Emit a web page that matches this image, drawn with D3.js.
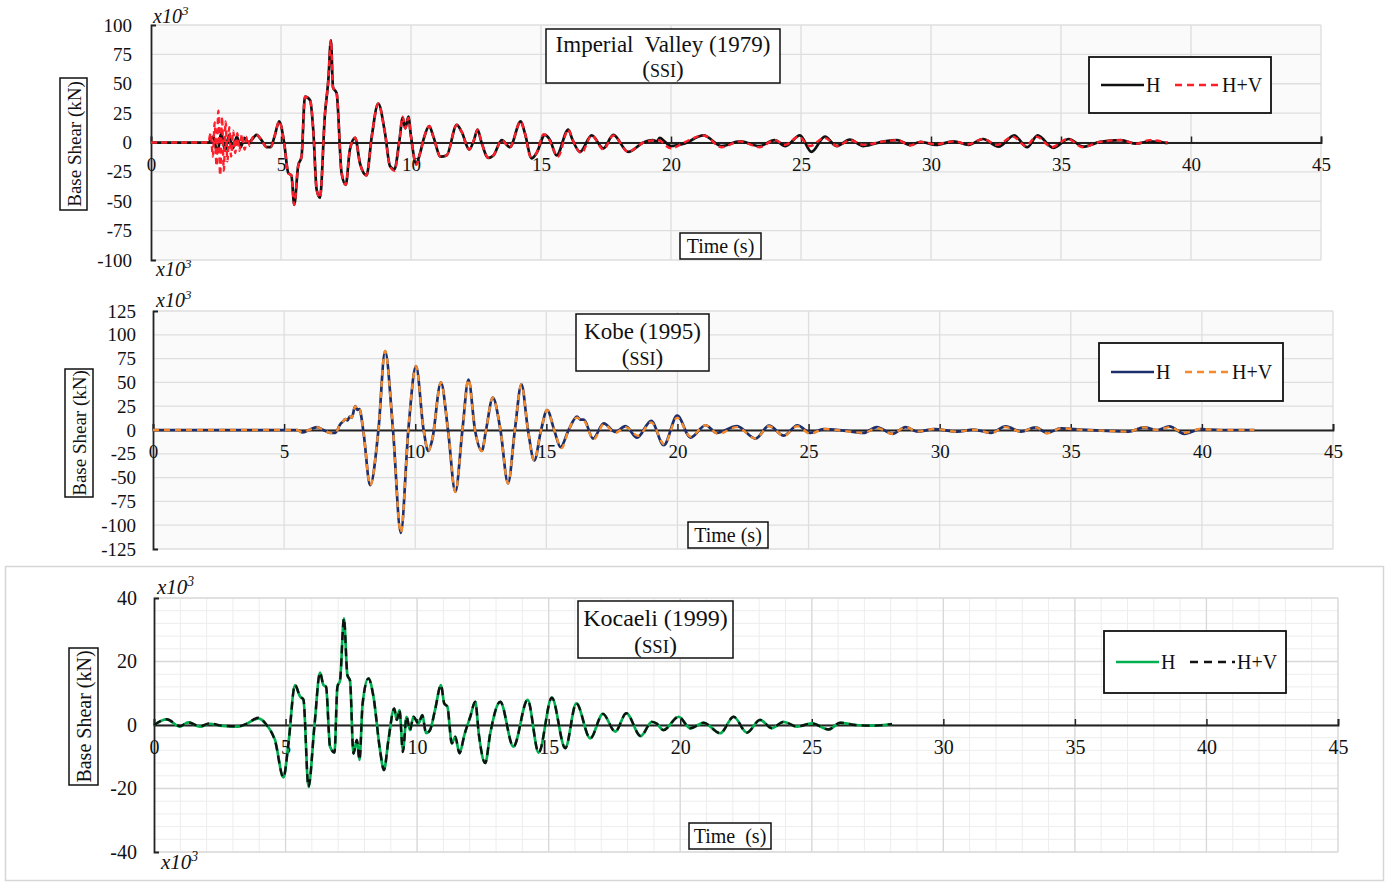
<!DOCTYPE html>
<html>
<head>
<meta charset="utf-8">
<script src="https://cdn.jsdelivr.net/npm/d3@7"></script>
<style>
body { margin: 0; background: #fff; }
svg { font-family: "Liberation Serif", "Times New Roman", serif; }
</style>
</head>
<body>
<svg id="chart" width="1391" height="882"></svg>
<script>
// Base shear (x10^3 kN) vs time (s) as [t, value]
let timeTicks = [0, 5, 10, 15, 20, 25, 30, 35, 40, 45]
let ivTicks = [-100, -75, -50, -25, 0, 25, 50, 75, 100]
let kobeTicks = [-125, -100, -75, -50, -25, 0, 25, 50, 75, 100, 125]
let kocaeliTicks = [-40, -20, 0, 20, 40]

let imperialH = [[0,0],[2.2,0],[2.4,5],[2.55,-9],[2.7,8],[2.85,-7],[3.0,6],[3.15,-5],[3.3,5],[3.45,-4],[3.6,4],[3.75,0],[3.9,3],[4.06,6.5],[4.25,2],[4.45,-4],[4.6,-4],[4.75,5],[4.93,18],[5.12,0],[5.28,-26],[5.4,-28],[5.51,-53],[5.66,-20],[5.79,-12],[5.92,39],[6.12,36],[6.24,11],[6.37,-40],[6.5,-47],[6.69,24],[6.82,53],[6.92,87],[7.0,47],[7.14,42],[7.33,-26],[7.49,-36],[7.65,-6],[7.85,4],[8.04,-18],[8.29,-28],[8.49,5],[8.74,33],[9.0,8],[9.19,-20],[9.36,-23],[9.55,1],[9.68,21],[9.78,12],[9.9,22],[10.0,5],[10.2,-18],[10.35,-9],[10.5,4],[10.7,14],[10.86,5],[11.14,-12],[11.37,-11],[11.76,15],[11.95,9],[12.24,-6],[12.42,2],[12.56,11],[12.7,1],[12.97,-13],[13.17,-11],[13.49,2],[13.8,-4],[14.22,18],[14.38,8],[14.64,-13.5],[14.83,-9],[15.15,6.5],[15.35,2],[15.6,-11],[16.05,11],[16.2,3],[16.5,-8],[16.95,6],[17.4,-5],[17.78,6.5],[18.35,-8],[18.94,0],[19.3,2],[19.45,1],[19.57,4],[19.75,1],[20.0,-3],[20.5,-1],[21.25,6],[21.95,-3],[22.65,1],[23.4,-3],[23.98,2],[24.4,-3],[24.96,6],[25.4,-8],[25.92,5],[26.37,-3],[26.88,2.5],[27.4,-3],[28.2,1],[28.7,2],[29.2,-2],[29.6,0.5],[30.2,-2],[30.86,1],[31.45,-2],[32.0,3],[32.6,-3.5],[33.2,6],[33.7,-4],[34.1,6],[34.7,-4.5],[35.3,3],[35.85,-3.5],[36.5,0.5],[37.3,2],[37.9,-1],[38.4,1],[39.1,-0.5]]

let imperialHV = [[0,0],[2.2,0],[2.3,8],[2.38,-12],[2.45,17],[2.52,-20],[2.59,27],[2.66,-28],[2.73,22],[2.8,-24],[2.87,18],[2.94,-16],[3.01,13],[3.08,-12],[3.16,10],[3.24,-9],[3.32,8],[3.4,-7],[3.5,7],[3.6,-6],[3.7,5],[3.8,-3],[3.9,4],[4.06,6.5],[4.25,2],[4.45,-4],[4.6,-4],[4.75,5],[4.93,18],[5.12,0],[5.28,-26],[5.4,-28],[5.51,-53],[5.66,-20],[5.79,-12],[5.92,39],[6.12,36],[6.24,11],[6.37,-40],[6.5,-47],[6.69,24],[6.82,53],[6.92,87],[7.0,47],[7.14,42],[7.33,-26],[7.49,-36],[7.65,-6],[7.85,4],[8.04,-18],[8.29,-28],[8.49,5],[8.74,33],[9.0,8],[9.19,-20],[9.36,-24],[9.55,1],[9.68,22],[9.78,12],[9.9,21],[10.0,5],[10.2,-19],[10.35,-9],[10.5,4],[10.7,14],[10.86,5],[11.14,-12],[11.37,-11],[11.76,15],[11.95,9],[12.24,-6],[12.42,2],[12.56,11],[12.7,1],[12.97,-13],[13.17,-11],[13.49,2],[13.8,-4],[14.22,18],[14.38,8],[14.6,-12],[14.8,-10],[15.1,7],[15.3,3],[15.65,-12],[16.05,11],[16.2,3],[16.55,-9],[16.95,6],[17.4,-6],[17.78,6],[18.35,-8],[18.94,0],[19.5,2],[20.0,-5],[20.5,0],[21.25,6],[21.95,-4],[22.65,1],[23.4,-4],[23.98,2],[24.4,-2],[24.9,5],[25.35,-3],[25.9,4],[26.4,-3],[26.9,2],[27.4,-2],[28.2,1],[28.7,2],[29.2,-2.5],[29.6,0.5],[30.2,-1.5],[30.86,1],[31.45,-1.5],[32.0,3],[32.55,-2],[33.15,5],[33.65,-3],[34.05,5],[34.65,-4],[35.25,3],[35.85,-4],[36.5,0.5],[37.3,2],[37.9,-1],[38.4,2],[39.1,0]]

let kobeH = [[0,0],[5.5,0],[5.69,-2.5],[5.95,0],[6.25,3],[6.5,0],[6.76,-3],[6.95,-3],[7.14,6],[7.25,9],[7.33,11.5],[7.42,10],[7.5,14],[7.58,13],[7.71,25],[7.8,21],[7.87,22],[8.03,-3],[8.28,-58],[8.6,1],[8.85,83],[9.15,1],[9.45,-108],[9.74,1],[10.03,67],[10.32,0],[10.5,-22],[10.65,-10],[10.98,50],[11.25,0],[11.53,-65],[11.8,0],[12.03,53],[12.28,0],[12.54,-22],[12.7,0],[12.96,34],[13.25,0],[13.54,-56],[13.8,0],[14.05,48],[14.3,0],[14.54,-32],[14.8,0],[15.03,21],[15.3,0],[15.54,-18],[15.85,0],[16.17,14],[16.3,11],[16.43,11],[16.78,-9],[17.19,7],[17.63,-2],[18.02,4],[18.46,-8],[19.0,9.5],[19.48,-16],[19.99,15],[20.5,-8],[21.07,5],[21.5,-3],[22.27,4],[22.98,-9],[23.49,4.5],[24.06,-6],[24.57,5],[25.07,-3],[25.58,1],[26.35,-0.7],[27.1,-3],[27.6,3],[28.2,-4],[28.7,3],[29.15,-1.7],[29.8,1],[30.67,-1.7],[31.3,0.3],[31.95,-3],[32.52,3.8],[33.1,-1.7],[33.66,2.8],[34.1,-3],[34.62,1.7],[35.4,0.3],[36.15,-0.7],[37.2,-1.7],[37.8,2.8],[38.3,0],[38.76,3.8],[39.33,-4],[39.96,1],[40.7,0],[41.36,0],[42,0]]

let kobeHV = [[0,0],[5.5,0],[5.69,-2.5],[5.95,0],[6.25,3],[6.5,0],[6.76,-3],[6.95,-3],[7.14,6],[7.25,9],[7.33,11.5],[7.42,10],[7.5,14],[7.58,13],[7.71,25],[7.8,21],[7.87,22],[8.03,-3],[8.28,-58],[8.6,1],[8.85,83],[9.15,1],[9.45,-108],[9.74,1],[10.03,67],[10.32,0],[10.5,-22],[10.65,-10],[10.98,50],[11.25,0],[11.53,-65],[11.8,0],[12.03,53],[12.28,0],[12.54,-22],[12.7,0],[12.96,34],[13.25,0],[13.54,-56],[13.8,0],[14.05,48],[14.3,0],[14.54,-32],[14.8,0],[15.03,21],[15.3,0],[15.58,-19],[15.85,0],[16.17,13],[16.3,11],[16.43,10],[16.8,-10],[17.19,6],[17.63,-3],[18.02,3],[18.5,-6],[19.0,8],[19.5,-15],[19.99,13],[20.5,-7],[21.07,5],[21.55,-4],[22.27,3],[22.98,-9],[23.49,4],[24.06,-6],[24.57,4],[25.07,-4],[25.58,1],[26.35,-1],[27.1,-3],[27.6,2],[28.2,-4],[28.7,3],[29.15,-1.7],[29.8,1],[30.67,-1.7],[31.3,0.3],[31.95,-3],[32.52,3],[33.1,-1.7],[33.66,2.8],[34.1,-3.5],[34.62,1.7],[35.4,0.3],[36.15,-0.7],[37.2,-1.7],[37.8,2.8],[38.3,0],[38.76,3],[39.33,-3],[39.96,1],[40.7,0],[41.36,0],[42,0]]

let kocaeliH = [[0,0],[0.48,1.8],[0.99,-0.5],[1.3,0.8],[1.75,-0.5],[2.1,0.4],[2.6,-0.3],[3.2,-0.5],[3.5,0.3],[3.97,2.1],[4.28,0],[4.6,-4.7],[4.92,-16.5],[5.11,-5.8],[5.36,12.6],[5.55,9],[5.68,8],[5.87,-19.5],[6.1,0],[6.31,16.5],[6.44,12.6],[6.54,12],[6.69,-6.8],[6.86,-8.7],[6.97,12],[7.07,14],[7.22,33.6],[7.35,15.7],[7.45,14],[7.58,-9],[7.71,-4.7],[7.81,-11],[7.93,6.8],[8.15,14.7],[8.34,9],[8.59,-7.9],[8.74,-14.2],[8.91,-4.7],[9.13,5.2],[9.23,1.6],[9.33,4.7],[9.46,-7.9],[9.6,2.6],[9.73,-1.6],[9.86,2.6],[10.05,0.5],[10.2,3.1],[10.34,-2.6],[10.49,-1.6],[10.68,4.7],[10.91,12.6],[11.03,6.8],[11.15,5.8],[11.32,-5.8],[11.45,-3.7],[11.61,-8.9],[11.8,-3],[12.02,2.6],[12.21,7.3],[12.35,-3.2],[12.59,-12],[12.78,-2.6],[13.16,7.3],[13.66,-6.8],[14.2,7.9],[14.62,-8.7],[15.12,8.6],[15.63,-7.3],[16.05,6.8],[16.58,-4.2],[17.06,3.5],[17.53,-2.1],[17.95,3.7],[18.5,-3.5],[18.92,1],[19.1,0.5],[19.36,-1.6],[19.94,2.6],[20.38,-1],[20.89,0.7],[21.52,-2.6],[22.03,2.6],[22.53,-2.4],[23.04,1.6],[23.48,-1],[23.93,1],[24.44,-0.5],[25.0,0.5],[25.64,-1.4],[26.08,0.7],[26.65,0],[27.29,-0.2],[28.05,0.3]]

let kocaeliHV = [[0,0],[0.48,1.8],[0.99,-0.3],[1.3,0.8],[1.75,-0.4],[2.1,0.5],[2.6,-0.2],[3.2,-0.4],[3.5,0.3],[3.97,2.3],[4.28,0],[4.6,-5],[4.92,-16.5],[5.11,-5.8],[5.36,12.6],[5.55,9],[5.68,8],[5.87,-19.5],[6.1,0],[6.31,16.5],[6.44,12.6],[6.54,12],[6.69,-6.8],[6.86,-8.7],[6.97,12],[7.07,14],[7.22,33.6],[7.35,15.7],[7.45,14],[7.58,-9],[7.71,-4.7],[7.81,-11],[7.93,6.8],[8.15,14.7],[8.34,9],[8.59,-7.9],[8.74,-14.2],[8.91,-4.7],[9.13,5.2],[9.23,1.6],[9.33,4.7],[9.46,-8.5],[9.6,2.6],[9.73,-1.6],[9.86,2.6],[10.05,0.5],[10.2,3.1],[10.34,-2.6],[10.49,-1.6],[10.68,4.7],[10.91,12.6],[11.03,6.8],[11.15,5.8],[11.32,-5.8],[11.45,-3.7],[11.61,-8.9],[11.8,-3],[12.02,2.6],[12.21,7.3],[12.35,-3.2],[12.59,-12],[12.78,-2.6],[13.16,7.3],[13.66,-6.8],[14.2,7.9],[14.62,-8.7],[15.12,8.6],[15.63,-7.3],[16.05,6.8],[16.58,-4.2],[17.06,3.5],[17.53,-2.1],[17.95,3.7],[18.5,-3.5],[18.92,1],[19.1,0.5],[19.36,-1.6],[19.94,2.6],[20.38,-1],[20.89,0.7],[21.52,-2.6],[22.03,2.6],[22.53,-2.4],[23.04,1.6],[23.48,-1],[23.93,1],[24.44,-0.5],[25.0,0.5],[25.64,-1.4],[26.08,0.7],[26.65,0],[27.29,-0.2],[28.05,0.3]]

let serif = '"Liberation Serif", "Times New Roman", serif'
let svg = d3.select('#chart')

// frame round the Kocaeli figure
svg.append('rect')
    .attr('x', 5.5).attr('y', 566.5)
    .attr('width', 1378).attr('height', 314)
    .attr('fill', 'none')
    .attr('stroke', '#d6d6d6')
    .attr('stroke-width', 1.5)

function boxedText(g, bx, by, bw, bh, lines, size) {
    g.append('rect')
        .attr('x', bx).attr('y', by).attr('width', bw).attr('height', bh)
        .attr('fill', '#fff').attr('stroke', '#111').attr('stroke-width', 1.5)
    lines.forEach(l => {
        let t = g.append('text')
            .attr('x', bx + bw / 2).attr('y', l.y)
            .attr('text-anchor', 'middle')
            .attr('font-size', size)
            .attr('fill', '#111')
            .style('white-space', 'pre')
        if (l.ssi) {
            t.append('tspan').text('(')
            t.append('tspan').attr('font-size', size * 0.78).text('SSI')
            t.append('tspan').text(')')
        } else {
            t.text(l.text)
        }
    })
}

function x10(g, px, py, size) {
    let t = g.append('text').attr('x', px).attr('y', py)
        .attr('font-size', size).attr('font-style', 'italic').attr('fill', '#111')
    t.append('tspan').text('x10')
    t.append('tspan').attr('dy', -8).attr('font-size', size * 0.65).text('3')
}

function drawPanel(p) {
    let x = d3.scaleLinear().domain([0, 45]).range([p.left, p.right])
    let y = d3.scaleLinear().domain([p.yTicks[0], p.yTicks[p.yTicks.length - 1]]).range([p.bottom, p.top])
    let g = svg.append('g')

    g.append('rect')
        .attr('x', p.left).attr('y', p.top)
        .attr('width', p.right - p.left).attr('height', p.bottom - p.top)
        .attr('fill', p.bg)

    // minor grid (Kocaeli only)
    if (p.minorX) {
        g.append('g').selectAll('line').data(d3.range(1, 46, 1))
            .join('line')
            .attr('x1', d => x(d)).attr('x2', d => x(d))
            .attr('y1', p.top).attr('y2', p.bottom)
            .attr('stroke', '#ededed').attr('stroke-width', 1)
        g.append('g').selectAll('line').data(d3.range(p.yTicks[0], p.yTicks[p.yTicks.length - 1] + 1, p.minorY))
            .join('line')
            .attr('x1', p.left).attr('x2', p.right)
            .attr('y1', d => y(d)).attr('y2', d => y(d))
            .attr('stroke', '#ededed').attr('stroke-width', 1)
    }
    // major grid
    g.append('g').selectAll('line').data(timeTicks.slice(1))
        .join('line')
        .attr('x1', d => x(d)).attr('x2', d => x(d))
        .attr('y1', p.top).attr('y2', p.bottom)
        .attr('stroke', p.grid).attr('stroke-width', 1.3)
    g.append('g').selectAll('line').data(p.yTicks)
        .join('line')
        .attr('x1', p.left).attr('x2', p.right)
        .attr('y1', d => y(d)).attr('y2', d => y(d))
        .attr('stroke', p.grid).attr('stroke-width', 1.3)

    // y axis
    let yAxis = g.append('g')
        .attr('transform', `translate(${p.left},0)`)
        .call(d3.axisLeft(y).tickValues(p.yTicks).tickSize(0).tickSizeOuter(-5)
            .tickPadding(p.yPad).tickFormat(d => String(d)))
        .attr('font-family', serif).attr('font-size', p.tfs)
    yAxis.select('.domain').attr('stroke', '#222').attr('stroke-width', 1.8)
    yAxis.selectAll('text').attr('fill', '#111')

    // x axis drawn through zero
    let xAxis = g.append('g')
        .attr('transform', `translate(0,${y(0)})`)
        .call(d3.axisBottom(x).tickValues(timeTicks).tickSize(-6)
            .tickPadding(15).tickFormat(d => String(d)))
        .attr('font-family', serif).attr('font-size', p.tfs)
    xAxis.select('.domain').attr('stroke', '#222').attr('stroke-width', 1.8)
    xAxis.selectAll('.tick line').attr('stroke', '#222').attr('stroke-width', 1.5)
    xAxis.selectAll('text').attr('fill', '#111')

    // traces
    let line = d3.line().x(d => x(d[0])).y(d => y(d[1])).curve(d3.curveMonotoneX)
    g.append('path').datum(p.h).attr('d', line)
        .attr('fill', 'none').attr('stroke', p.hColor).attr('stroke-width', 2.7)
        .attr('stroke-linejoin', 'round')
    g.append('path').datum(p.hv).attr('d', line)
        .attr('fill', 'none').attr('stroke', p.hvColor).attr('stroke-width', 2.4)
        .attr('stroke-dasharray', p.dash)

    // title, time label, legend
    boxedText(g, p.title.x, p.title.y, p.title.w, p.title.h, p.title.lines, p.title.fs)
    boxedText(g, p.time.x, p.time.y, p.time.w, p.time.h, [{ y: p.time.y + 20, text: p.time.text }], p.lfs)

    let lg = p.legend
    g.append('rect').attr('x', lg.x).attr('y', lg.y).attr('width', lg.w).attr('height', lg.h)
        .attr('fill', '#fff').attr('stroke', '#111').attr('stroke-width', 1.8)
    let ly = lg.y + lg.h / 2
    g.append('line').attr('x1', lg.x + 12).attr('x2', lg.x + 55).attr('y1', ly).attr('y2', ly)
        .attr('stroke', p.hColor).attr('stroke-width', 2.4)
    g.append('text').attr('x', lg.x + 57).attr('y', ly + 7).attr('font-size', p.lfs).attr('fill', '#111').text('H')
    g.append('line').attr('x1', lg.x + 86).attr('x2', lg.x + 131).attr('y1', ly).attr('y2', ly)
        .attr('stroke', p.hvColor).attr('stroke-width', 2.4).attr('stroke-dasharray', p.legendDash)
    g.append('text').attr('x', lg.x + 133).attr('y', ly + 7).attr('font-size', p.lfs).attr('fill', '#111').text('H+V')

    // rotated y label
    let yl = p.ylab
    g.append('rect').attr('x', yl.x).attr('y', yl.y).attr('width', yl.w).attr('height', yl.h)
        .attr('fill', '#fff').attr('stroke', '#111').attr('stroke-width', 1.5)
    g.append('text')
        .attr('transform', `translate(${yl.x + yl.w / 2 + 7},${yl.y + yl.h / 2}) rotate(-90)`)
        .attr('text-anchor', 'middle').attr('font-size', p.yfs).attr('fill', '#111').text('Base Shear (kN)')

    p.x10.forEach(m => x10(g, m[0], m[1], p.xfs))
}

drawPanel({
    left: 151, right: 1321, top: 25, bottom: 260,
    yTicks: ivTicks, yPad: 19, tfs: 19, lfs: 20, yfs: 19, xfs: 20, bg: '#fafafa', grid: '#dedede',
    h: imperialH, hv: imperialHV, hColor: '#111', hvColor: '#ff1f2a', dash: '6,4', legendDash: '7,5',
    title: { x: 546, y: 29, w: 234, h: 54, fs: 23,
        lines: [{ y: 52, text: 'Imperial  Valley (1979)' }, { y: 77, ssi: true }] },
    time: { x: 680, y: 233, w: 81, h: 26, text: 'Time (s)' },
    legend: { x: 1089, y: 57, w: 182, h: 56 },
    ylab: { x: 60, y: 78, w: 27, h: 132 },
    x10: [[153, 23], [156, 276]]
})

drawPanel({
    left: 153, right: 1333, top: 311, bottom: 549,
    yTicks: kobeTicks, yPad: 17, tfs: 19, lfs: 20, yfs: 19, xfs: 20, bg: '#fafafa', grid: '#dedede',
    h: kobeH, hv: kobeHV, hColor: '#1c2f6b', hvColor: '#f58a2c', dash: '6,5', legendDash: '7,5',
    title: { x: 576, y: 314, w: 133, h: 57, fs: 23,
        lines: [{ y: 339, text: 'Kobe (1995)' }, { y: 365, ssi: true }] },
    time: { x: 688, y: 522, w: 80, h: 26, text: 'Time (s)' },
    legend: { x: 1099, y: 343, w: 184, h: 58 },
    ylab: { x: 65, y: 369, w: 28, h: 128 },
    x10: [[156, 307]]
})

drawPanel({
    left: 154, right: 1338, top: 598, bottom: 852,
    yTicks: kocaeliTicks, yPad: 17, tfs: 20, lfs: 20, yfs: 20, xfs: 21, bg: '#fff', grid: '#d8d8d8',
    minorX: true, minorY: 4,
    h: kocaeliH, hv: kocaeliHV, hColor: '#00b050', hvColor: '#111', dash: '8,5', legendDash: '8,6',
    title: { x: 578, y: 601, w: 155, h: 57, fs: 24,
        lines: [{ y: 626, text: 'Kocaeli (1999)' }, { y: 653, ssi: true }] },
    time: { x: 689, y: 823, w: 82, h: 26, text: 'Time  (s)' },
    legend: { x: 1104, y: 631, w: 182, h: 62 },
    ylab: { x: 69, y: 648, w: 29, h: 137 },
    x10: [[157, 594], [161, 869]]
})
</script>
</body>
</html>
